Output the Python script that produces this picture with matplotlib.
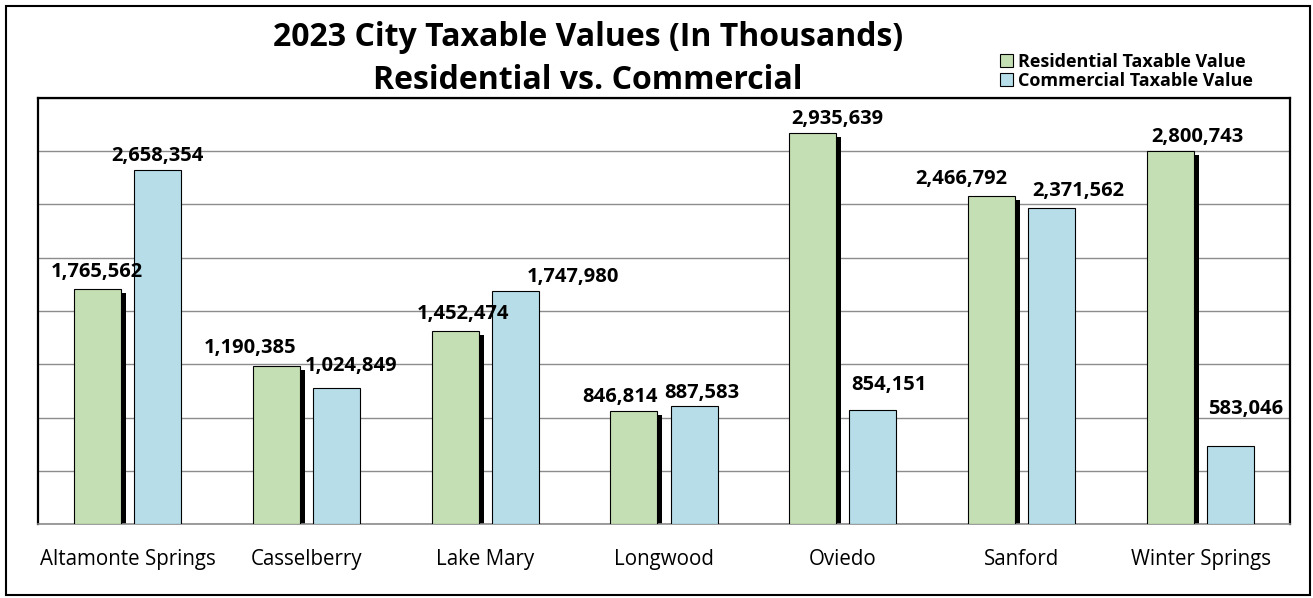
import matplotlib.pyplot as plt
import matplotlib.transforms as mtrans
from matplotlib.patches import Patch, Rectangle
import numpy as np

cities = ["Altamonte Springs", "Casselberry", "Lake Mary", "Longwood",
          "Oviedo", "Sanford", "Winter Springs"]
residential = [1765562, 1190385, 1452474, 846814, 2935639, 2466792, 2800743]
commercial = [2658354, 1024849, 1747980, 887583, 854151, 2371562, 583046]

# manual label nudges (pixels) copied from the original layout
res_off = [(-1, 17), (-26, 18), (8, 17), (-14, 14), (25, 14), (-30, 17), (27, 14)]
com_off = [(0, 14), (15, 22), (58, 14), (8, 13), (16, 25), (27, 17), (15, 37)]

green = "#c4dfb4"
blue = "#b7dde8"

fig = plt.figure(figsize=(13.13, 5.98), dpi=100)
plt.rcParams['font.family'] = ['Open Sans', 'DejaVu Sans']
ax = fig.add_axes([0.0289, 0.1237, 0.9536, 0.7125])

x = np.arange(len(cities))
w = 0.263
off = 0.168

shadow_tr = ax.transData + mtrans.ScaledTranslation(5 / 100, -4 / 100, fig.dpi_scale_trans)
shadows = ax.bar(x - off, residential, w, color="black", zorder=2)
for p in shadows:
    p.set_transform(shadow_tr)
ax.bar(x - off, residential, w, color=green, edgecolor="black", linewidth=0.8, zorder=3)
ax.bar(x + off, commercial, w, color=blue, edgecolor="black", linewidth=0.8, zorder=3)

for i in range(len(cities)):
    ax.annotate(f"{residential[i]:,}", (x[i] - off, residential[i]),
                xytext=(res_off[i][0] * 0.72, res_off[i][1] * 0.72), textcoords="offset points",
                ha="center", va="center", fontsize=14.5, fontweight="bold", zorder=5)
    ax.annotate(f"{commercial[i]:,}", (x[i] + off, commercial[i]),
                xytext=(com_off[i][0] * 0.72, com_off[i][1] * 0.72), textcoords="offset points",
                ha="center", va="center", fontsize=14.5, fontweight="bold", zorder=5)

ax.set_xlim(-0.5, len(cities) - 0.5)
ax.set_ylim(0, 3200000)
ax.set_yticks(np.arange(0, 3200001, 400000))
ax.set_yticklabels([])
ax.tick_params(axis="y", length=0)
ax.tick_params(axis="x", length=0, pad=18, labelsize=14.8)
ax.set_xticks(x)
ax.set_xticklabels(cities)
ax.yaxis.grid(True, color="#8c8c8c", linewidth=1)
ax.set_axisbelow(True)
for s in ["left", "top", "right"]:
    ax.spines[s].set_color("black")
    ax.spines[s].set_linewidth(1.6)
ax.spines["bottom"].set_color("#8c8c8c")
ax.spines["bottom"].set_linewidth(1.2)

fig.text(0.448, 0.937, "2023 City Taxable Values (In Thousands)", ha="center", va="center",
         fontsize=23, fontweight="bold")
fig.text(0.448, 0.865, "Residential vs. Commercial", ha="center", va="center",
         fontsize=23, fontweight="bold")

handles = [Patch(facecolor=green, edgecolor="black", linewidth=0.8),
           Patch(facecolor=blue, edgecolor="black", linewidth=0.8)]
fig.legend(handles, ["Residential Taxable Value", "Commercial Taxable Value"],
           loc="center", bbox_to_anchor=(0.858, 0.881), frameon=False,
           prop={"weight": "bold", "size": 13}, handlelength=0.7, handleheight=0.7,
           handletextpad=0.3, labelspacing=0.05)

fig.patches.append(Rectangle((6 / 1313, 3 / 598), 1304 / 1313, 589 / 598,
                             transform=fig.transFigure, fill=False, edgecolor="black",
                             linewidth=1.5))

fig.savefig("out.png", dpi=100)
